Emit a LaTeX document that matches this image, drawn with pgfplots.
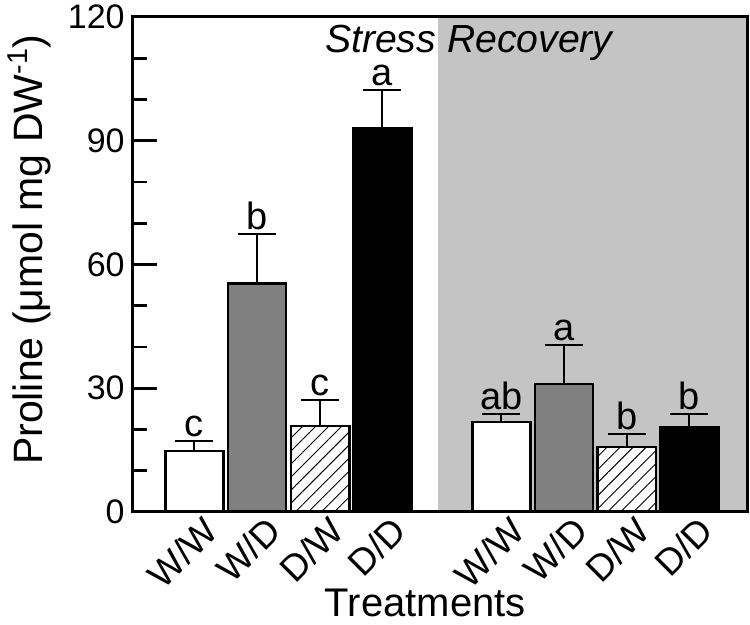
\documentclass[border=0pt]{standalone}
\usepackage{pgfplots}
\pgfplotsset{compat=1.18}
\usepackage{fontspec}
\setmainfont{Liberation Sans}
\usetikzlibrary{patterns.meta}
\definecolor{bggray}{RGB}{196,196,196}
\definecolor{bargray}{RGB}{128,128,128}
\begin{document}
\begin{tikzpicture}
\path[use as bounding box] (-66.5pt,-56.5pt) rectangle (308.5pt,256pt);
\begin{axis}[
  at={(0,0)}, anchor=south west,
  scale only axis, width=307pt, height=247.5pt,
  xmin=0, xmax=9.8, ymin=0, ymax=120,
  axis on top,
  /pgf/number format/assume math mode=true,
  axis line style={line width=1.5pt},
  ytick={0,30,60,90,120},
  minor ytick={10,20,40,50,70,80,100,110},
  ytick pos=left,
  tick align=inside,
  major tick length=12pt, minor tick length=7pt,
  every tick/.style={black, line width=1.3pt},
  xtick={0.98,1.98,2.99,3.98,5.88,6.88,7.88,8.88},
  xticklabels={W/W,W/D,D/W,D/D,W/W,W/D,D/W,D/D},
  xtick style={draw=none},
  extra x ticks={2.46,4.92,7.38},
  extra x tick labels={},
  extra x tick style={major tick length=4pt, tick style={draw=black, line width=1.5pt}},
  xticklabel style={font=\fontsize{18.5}{22}\selectfont, inner sep=0pt, xshift=3.5pt, yshift=-1pt, rotate=45, anchor=north east},
  yticklabel style={font=\fontsize{17}{20}\selectfont, inner sep=0pt, xshift=-4pt},
  xlabel={Treatments},
  xlabel style={font=\fontsize{20}{22}\selectfont, at={(axis description cs:0.476,-0.211)}, anchor=base},
  ylabel={Proline (μmol mg DW\textsuperscript{-1})},
  ylabel style={font=\fontsize{20.5}{22}\selectfont, at={(axis description cs:-0.147,0.53)}, anchor=base},
]
\addplot[fill=bggray, draw=none] coordinates {(4.87,0) (4.87,120) (9.8,120) (9.8,0)} \closedcycle;

\addplot[ybar, bar width=0.93, bar shift=0pt, fill=white, draw=black, line width=1.25pt,
  error bars/.cd, y dir=plus, y explicit,
  error bar style={line width=1pt, black},
  error mark options={rotate=90, mark size=9.5pt, line width=1pt, black}]
  coordinates {(0.98,14.8) +- (0,2.4) (5.88,21.8) +- (0,1.9)};

\addplot[ybar, bar width=0.93, bar shift=0pt, fill=bargray, draw=black, line width=1.25pt,
  error bars/.cd, y dir=plus, y explicit,
  error bar style={line width=1pt, black},
  error mark options={rotate=90, mark size=9.5pt, line width=1pt, black}]
  coordinates {(1.98,55.4) +- (0,11.9) (6.88,31.0) +- (0,9.4)};

\addplot[ybar, bar width=0.93, bar shift=0pt, fill=white, draw=black, line width=1.25pt,
  postaction={pattern={Lines[angle=45,distance=4.6pt,line width=0.45pt]}},
  error bars/.cd, y dir=plus, y explicit,
  error bar style={line width=1pt, black},
  error mark options={rotate=90, mark size=9.5pt, line width=1pt, black}]
  coordinates {(2.99,20.8) +- (0,6.3) (7.88,15.7) +- (0,3.2)};

\addplot[ybar, bar width=0.93, bar shift=0pt, fill=black, draw=black, line width=1.25pt,
  error bars/.cd, y dir=plus, y explicit,
  error bar style={line width=1pt, black},
  error mark options={rotate=90, mark size=9.5pt, line width=1pt, black}]
  coordinates {(3.98,93.0) +- (0,9.2) (8.88,20.6) +- (0,3.1)};

\begin{scope}[every node/.style={font=\fontsize{19}{21}\selectfont, anchor=base, inner sep=0pt}]
\node at (axis cs:0.98,18.3) {c};
\node at (axis cs:1.98,68.4) {b};
\node at (axis cs:2.99,28.2) {c};
\node at (axis cs:3.98,103.3) {a};
\node at (axis cs:5.88,24.8) {ab};
\node at (axis cs:6.88,41.5) {a};
\node at (axis cs:7.88,20.0) {b};
\node at (axis cs:8.88,24.8) {b};
\end{scope}
\node[font=\itshape\fontsize{19.6}{22}\selectfont, anchor=base] at (axis description cs:0.547,0.929) {Stress Recovery};
\end{axis}
\end{tikzpicture}
\end{document}
